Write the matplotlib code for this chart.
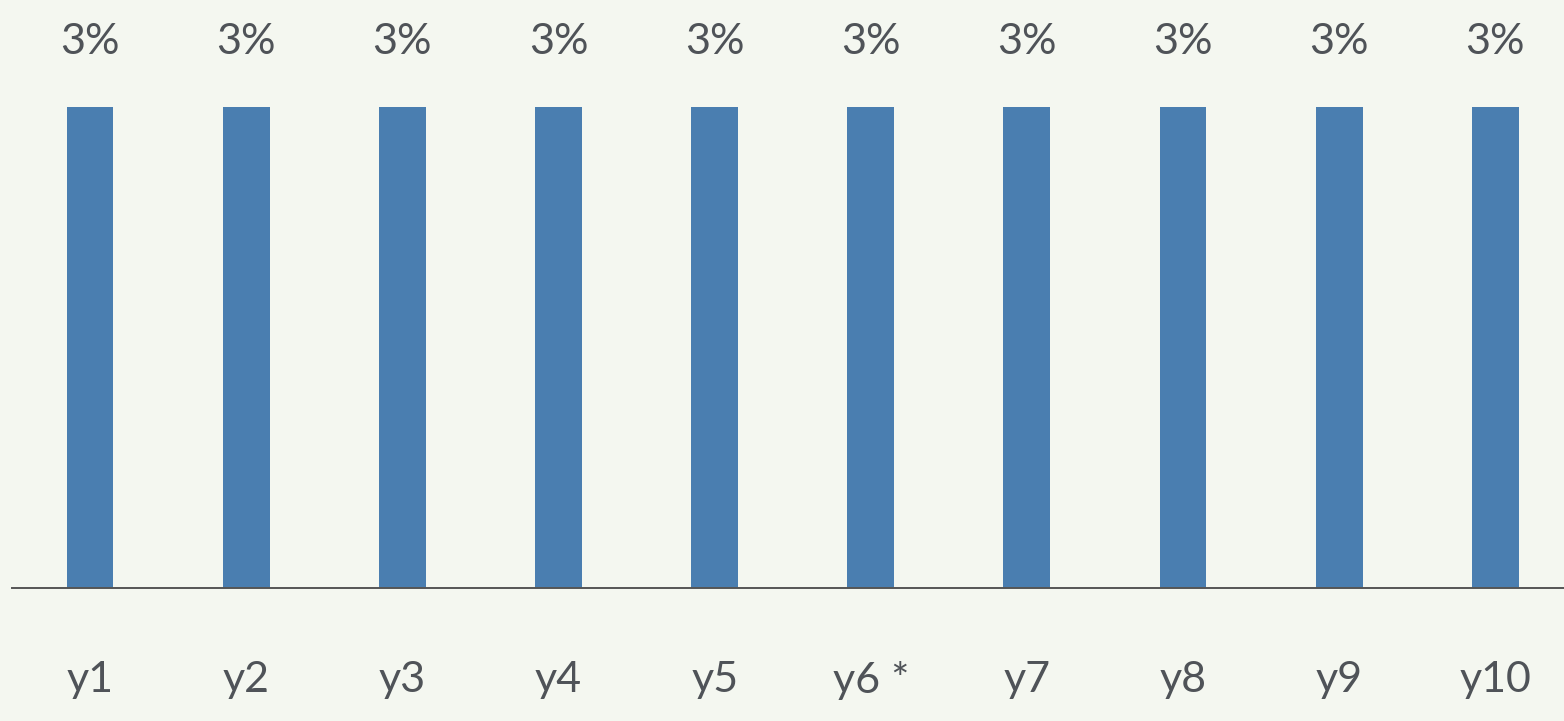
import matplotlib.pyplot as plt
import numpy as np

# chart data
categories = ['y1', 'y2', 'y3', 'y4', 'y5', 'y6 *', 'y7', 'y8', 'y9', 'y10']
values = [3, 3, 3, 3, 3, 3, 3, 3, 3, 3]
value_labels = ['3%', '3%', '3%', '3%', '3%', '3%', '3%', '3%', '3%', '3%']

BG = '#f4f7f0'
BAR = '#4a7eb0'
TXT = '#4f5358'

plt.rcParams['font.family'] = ['Lato', 'DejaVu Sans']

fig = plt.figure(figsize=(15.64, 7.21), dpi=100, facecolor=BG)
ax = fig.add_axes([12 / 1564, 133 / 721, 1552 / 1564, 481 / 721])
ax.set_facecolor(BG)

x = np.arange(len(categories))
ax.bar(x, values, width=0.30, color=BAR)

for xi, v, lab in zip(x, values, value_labels):
    ax.annotate(lab, (xi, v), xytext=(0, 65), textcoords='offset pixels',
                ha='center', va='center', fontsize=31, color=TXT)
    ax.annotate(categories[xi], (xi, 0), xytext=(0, -92), textcoords='offset pixels',
                ha='center', va='center', fontsize=31, color=TXT)

ax.set_xlim(-0.5, 9.44)
ax.set_ylim(0, 3)
ax.axhline(0, color='#555555', lw=1.4, clip_on=False)

for s in ax.spines.values():
    s.set_visible(False)
ax.set_xticks([])
ax.set_yticks([])

fig.savefig('out.png', dpi=100, facecolor=BG)
